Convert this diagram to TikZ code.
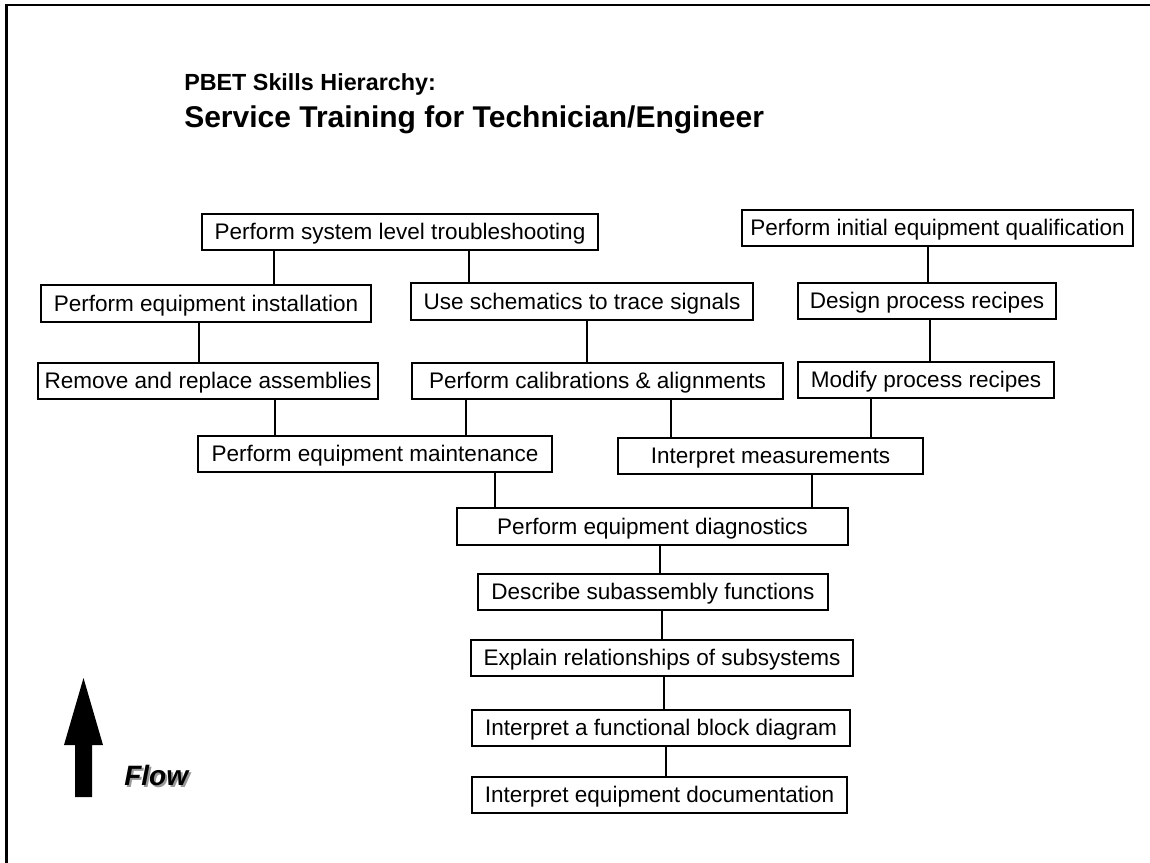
\documentclass[tikz,border=0pt]{standalone}
\usepackage{fontspec}
\setmainfont{Liberation Sans}
\begin{document}
\begin{tikzpicture}[x=0.75pt,y=-0.75pt,
  skill/.style={draw, line width=1.5pt, inner sep=0pt, minimum height=#1*0.75pt,
    text height=15pt, text depth=3.4pt,
    font=\fontsize{16.9}{19}\selectfont},
  skill/.default=36,
  bw/.style={minimum width=#1*0.75pt},
  link/.style={line width=0.8pt}]
\useasboundingbox (0,0) rectangle (1150,863);

% frame on the left and top edges
\draw[line width=1.6pt] (6.5,863) -- (6.5,5) -- (1150,5);

% heading
\node[anchor=base west, inner sep=0pt, font=\bfseries\fontsize{17.5}{20}\selectfont] (t1) at (184,91) {PBET Skills Hierarchy:};
\node[anchor=base west, inner sep=0pt, font=\bfseries\fontsize{22.5}{26}\selectfont] (t2) at (184,128) {Service Training for Technician/Engineer};

% skill boxes (centre positions in pixels)
\node[skill, bw=396] (ts)   at (400,232)   {Perform system level troubleshooting};
\node[skill, bw=391] (qual) at (937.5,228) {Perform initial equipment qualification};
\node[skill=37, bw=330] (inst) at (206,303.5) {Perform equipment installation};
\node[skill=37, bw=342] (sch)  at (582,301.5) {Use schematics to trace signals};
\node[skill, bw=258] (des)  at (927,301)   {Design process recipes};
\node[skill, bw=340] (rem)  at (208,380.5) {Remove and replace assemblies};
\node[skill, bw=371] (cal)  at (597.5,380.5) {Perform calibrations \& alignments};
\node[skill, bw=256] (mod)  at (926,380)   {Modify process recipes};
\node[skill, bw=354] (mnt)  at (375,454)   {Perform equipment maintenance};
\node[skill, bw=305] (meas) at (770.5,456) {Interpret measurements};
\node[skill=37, bw=391] (diag) at (652.5,526.5) {Perform equipment diagnostics};
\node[skill, bw=350] (subf) at (653,592)   {Describe subassembly functions};
\node[skill, bw=382] (rel)  at (662,658)   {Explain relationships of subsystems};
\node[skill, bw=378] (fbd)  at (661,728)   {Interpret a functional block diagram};
\node[skill, bw=375] (doc)  at (659.5,795) {Interpret equipment documentation};

% connectors
\draw[link] (ts.south -| 274,0)   -- (inst.north -| 274,0);
\draw[link] (ts.south -| 469,0)   -- (sch.north -| 469,0);
\draw[link] (qual.south -| 928,0) -- (des.north -| 928,0);
\draw[link] (inst.south -| 199,0) -- (rem.north -| 199,0);
\draw[link] (sch.south -| 587,0)  -- (cal.north -| 587,0);
\draw[link] (des.south -| 930,0)  -- (mod.north -| 930,0);
\draw[link] (rem.south -| 275,0)  -- (mnt.north -| 275,0);
\draw[link] (cal.south -| 466,0)  -- (mnt.north -| 466,0);
\draw[link] (cal.south -| 671,0)  -- (meas.north -| 671,0);
\draw[link] (mod.south -| 871,0)  -- (meas.north -| 871,0);
\draw[link] (mnt.south -| 495,0)  -- (diag.north -| 495,0);
\draw[link] (meas.south -| 812,0) -- (diag.north -| 812,0);
\draw[link] (diag.south -| 660,0) -- (subf.north -| 660,0);
\draw[link] (subf.south -| 662,0) -- (rel.north -| 662,0);
\draw[link] (rel.south -| 664,0)  -- (fbd.north -| 664,0);
\draw[link] (fbd.south -| 666,0)  -- (doc.north -| 666,0);

% flow arrow
\fill (75,797) -- (75,745) -- (64,745) -- (83.5,678) -- (103,745) -- (92,745) -- (92,797) -- cycle;
\node[anchor=base west, inner sep=0pt, text=black!40, font=\bfseries\itshape\fontsize{21}{24}\selectfont] (flowsh) at (126,787) {Flow};
\node[anchor=base west, inner sep=0pt, font=\bfseries\itshape\fontsize{21}{24}\selectfont] (flow) at (124,785) {Flow};
\end{tikzpicture}
\end{document}
